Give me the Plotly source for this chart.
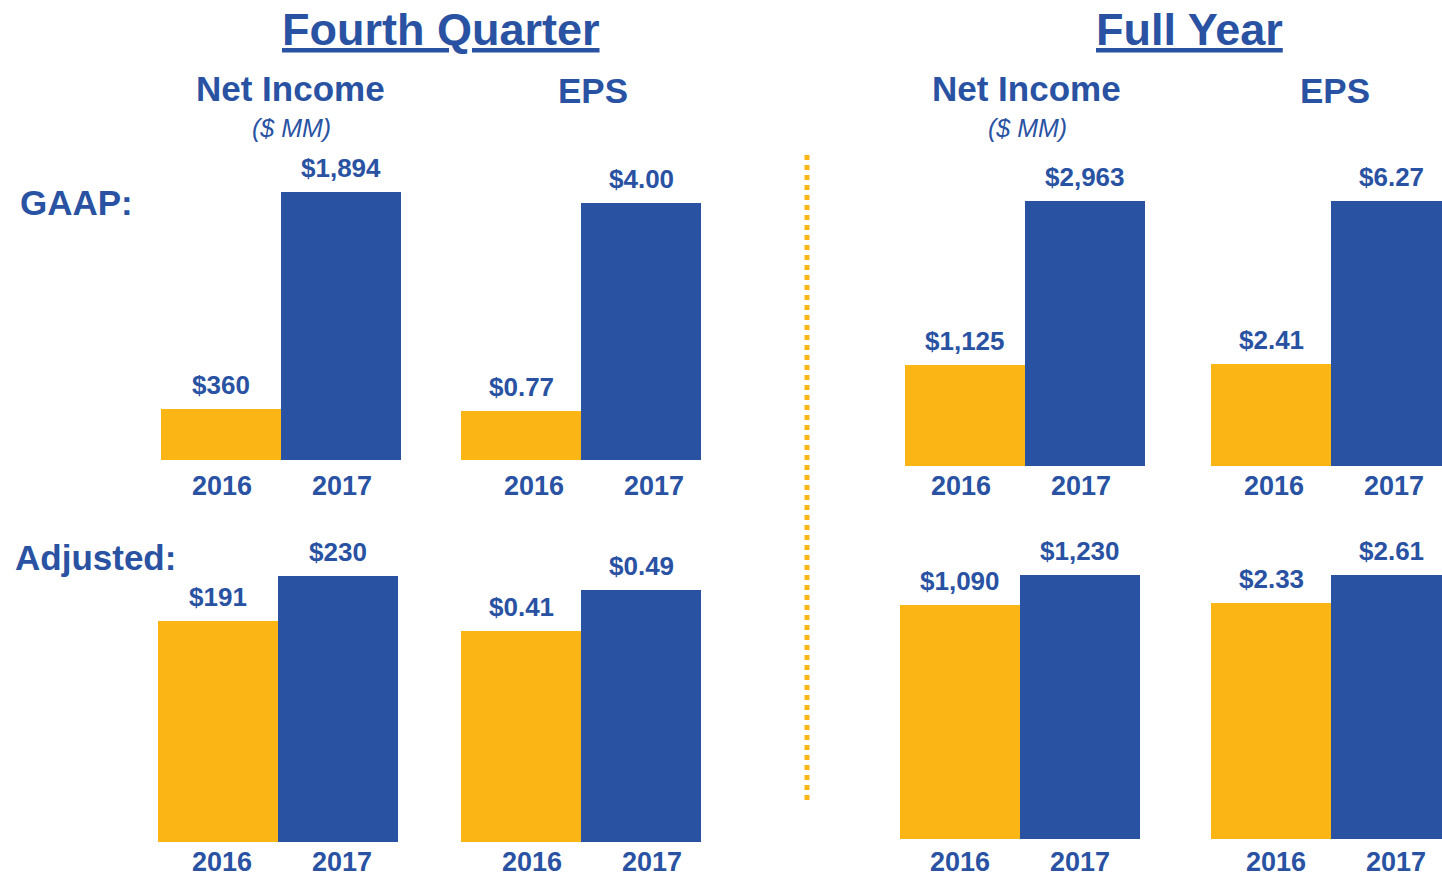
import plotly.graph_objects as go

# ---------------- data ----------------
years = ["2016", "2017"]
q4_gaap_net_income = [360, 1894]
q4_gaap_eps = [0.77, 4.00]
fy_gaap_net_income = [1125, 2963]
fy_gaap_eps = [2.41, 6.27]
q4_adj_net_income = [191, 230]
q4_adj_eps = [0.41, 0.49]
fy_adj_net_income = [1090, 1230]
fy_adj_eps = [2.33, 2.61]

BLUE = "#2952A3"
GOLD = "#FBB515"
FONT = "Liberation Sans, Arial, sans-serif"
W, H = 1442, 878

# panel layout (pixels): x-left, x-right, baseline, top of tallest bar,
# year-label x-shift, year-label centre y, value format
panels = [
    (q4_gaap_net_income, 161, 402, 460, 192, 1, 486, "ni"),
    (q4_gaap_eps,        461, 702, 460, 203, 13, 486, "eps"),
    (fy_gaap_net_income, 905, 1145, 466, 201, -4, 486, "ni"),
    (fy_gaap_eps,        1211, 1442, 466, 201, 3, 486, "eps"),
    (q4_adj_net_income,  158, 399, 842, 576, 4, 862, "ni"),
    (q4_adj_eps,         461, 702, 842, 590, 11, 862, "eps"),
    (fy_adj_net_income,  900, 1140, 839, 575, 0, 862, "ni"),
    (fy_adj_eps,         1211, 1442, 839, 575, 5, 862, "eps"),
]

fig = go.Figure()
annotations = []
layout_axes = {}

def py(p):
    return 1 - p / H

for i, (vals, x0, x1, base, top, lshift, ly, kind) in enumerate(panels):
    n = "" if i == 0 else str(i + 1)
    xa, ya = "x" + n, "y" + n
    fig.add_trace(go.Bar(
        x=years, y=vals, xaxis=xa, yaxis=ya,
        marker=dict(color=[GOLD, BLUE], line=dict(width=0)),
        showlegend=False, hoverinfo="skip",
    ))
    width_px = x1 - x0
    unit = 120.0
    layout_axes["xaxis" + n] = dict(
        type="category", categoryorder="array", categoryarray=years,
        domain=[x0 / W, x1 / W], range=[-0.5, -0.5 + width_px / unit],
        anchor=ya, showgrid=False, zeroline=False, showline=False,
        showticklabels=False, ticks="", fixedrange=True,
    )
    layout_axes["yaxis" + n] = dict(
        type="linear",
        domain=[py(base), py(top)], range=[0, max(vals) * 1.0005],
        anchor=xa, showgrid=False, zeroline=False, showline=False,
        showticklabels=False, ticks="", fixedrange=True,
    )
    for j, (yr, v) in enumerate(zip(years, vals)):
        txt = "${:,.0f}".format(v) if kind == "ni" else "${:.2f}".format(v)
        annotations.append(dict(
            x=j, y=v, xref=xa, yref=ya, text=txt, showarrow=False,
            xanchor="center", yanchor="bottom", yshift=7,
            font=dict(family=FONT, size=26, color=BLUE, weight="bold"),
        ))
        annotations.append(dict(
            x=j, y=0, xref=xa, yref=ya, text=yr, showarrow=False,
            xanchor="center", yanchor="middle", yshift=-(ly - base), xshift=lshift,
            font=dict(family=FONT, size=27, color=BLUE, weight="bold"),
        ))

def head(text, xpx, ypx, size, italic=False, bold=True, xanchor="center"):
    annotations.append(dict(
        x=xpx / W, y=py(ypx), xref="paper", yref="paper", text=text,
        showarrow=False, xanchor=xanchor, yanchor="middle",
        font=dict(family=FONT, size=size, color=BLUE,
                  weight="bold" if bold else "normal",
                  style="italic" if italic else "normal"),
    ))

head("<u>Fourth Quarter</u>", 441, 30, 45)
head("<u>Full Year</u>", 1189, 30, 45)
head("Net Income", 290, 89, 35)
head("($ MM)", 291, 128, 25, italic=True, bold=False)
head("EPS", 593, 91, 35)
head("Net Income", 1026, 89, 35)
head("($ MM)", 1027, 128, 25, italic=True, bold=False)
head("EPS", 1335, 91, 35)
head("GAAP:", 18, 202, 35, xanchor="left")
head("Adjusted:", 13, 557, 35, xanchor="left")

fig.update_layout(
    width=W, height=H, margin=dict(l=0, r=0, t=0, b=0),
    paper_bgcolor="white", plot_bgcolor="rgba(0,0,0,0)",
    bargap=0, annotations=annotations,
    shapes=[dict(type="line", xref="paper", yref="paper",
                 x0=807 / W, x1=807 / W, y0=py(155), y1=py(800),
                 line=dict(color=GOLD, width=5, dash="5px,5px"))],
    **layout_axes,
)

fig.write_html(
    "out.html",
    config={"displayModeBar": False},
    post_script="document.body.style.margin='0';document.body.style.overflow='hidden';",
)
